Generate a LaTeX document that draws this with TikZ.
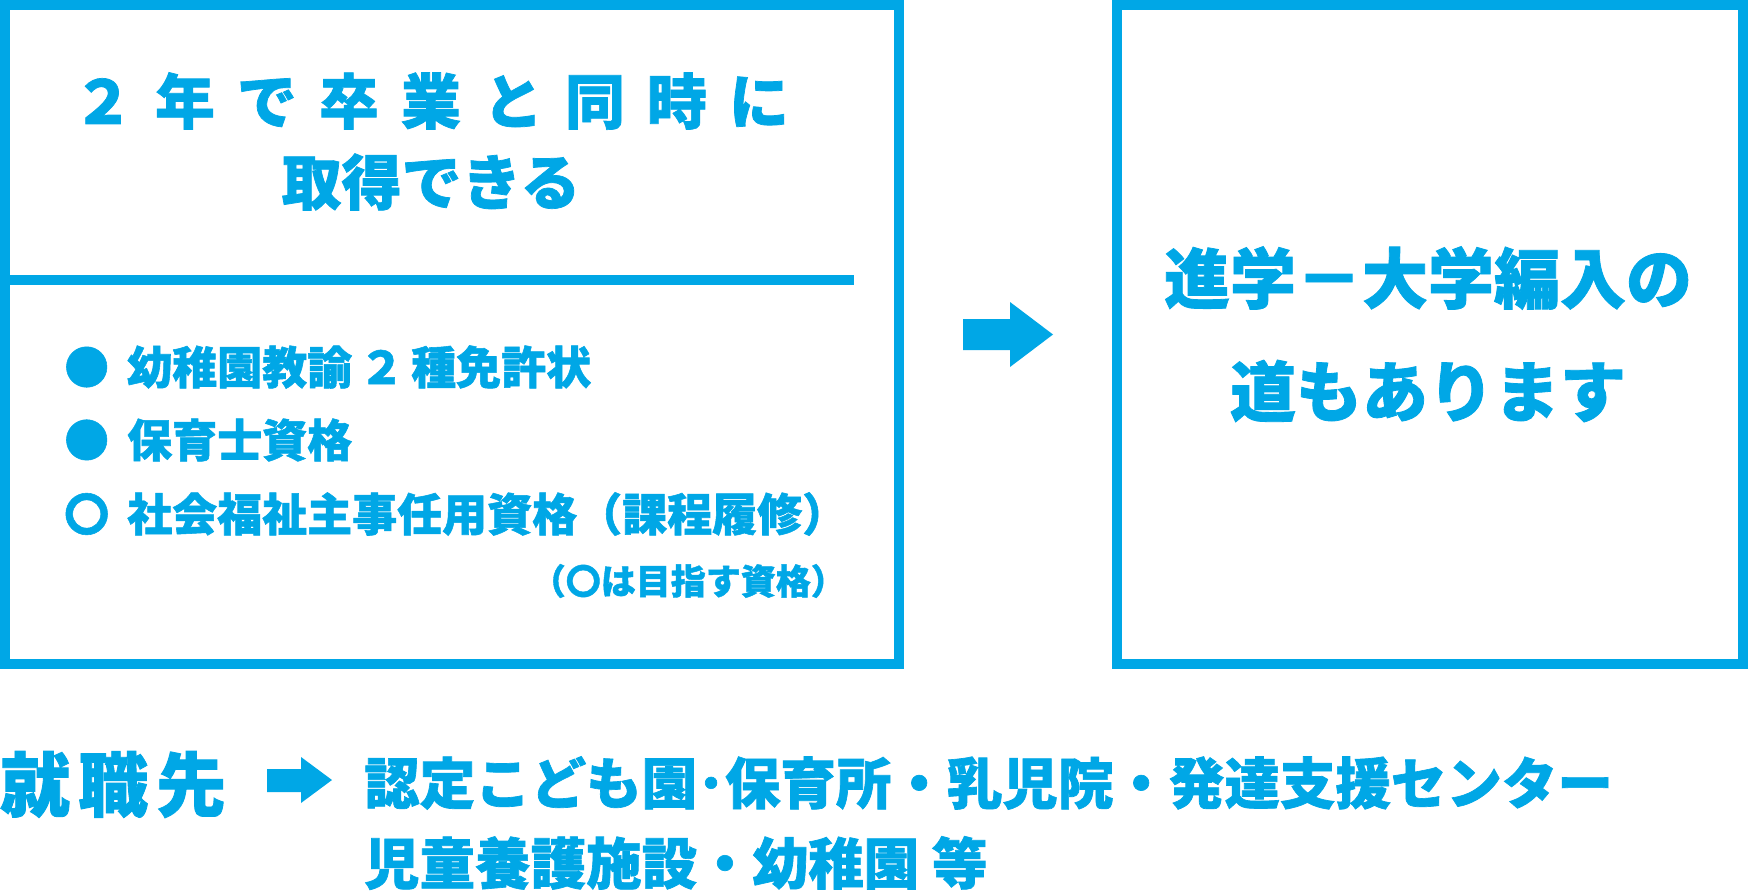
\documentclass[tikz,border=0pt]{standalone}
\usepackage{fontspec}
\newfontfamily\jp{Noto Sans CJK JP}[BoldFeatures={FakeBold=1.2}]
\definecolor{cy}{RGB}{0,167,230}
\tikzset{
  frame/.style={draw=cy, line width=10pt},
  txt/.style={text=cy, inner sep=0pt},
  blockarrow/.style={fill=cy},
}
\newcommand\jpf[1]{\jp\bfseries\fontsize{#1}{1.2\dimexpr#1\relax}\selectfont}
\begin{document}
\begin{tikzpicture}[x=1pt,y=-1pt]
\useasboundingbox[fill=white] (0,0) rectangle (1748,891);
% left box
\draw[frame] (5,5) rectangle (899,664);
\draw[frame] (0,280) -- (854,280);
% right box
\draw[frame] (1117,5) rectangle (1743,664);
% title
\node[txt, font=\jpf{60pt}] (t1) at (431,101) {\spaceskip=22pt\relax ２ 年 で 卒 業 と 同 時 に};
\node[txt, font=\jpf{60pt}] (t2) at (431,182) {取得できる};
% items
\node[txt, anchor=west, font=\jpf{45pt}] (i1) at (64,367) {●\hspace{18pt}幼稚園教諭\hspace{7pt}２\hspace{7pt}種免許状};
\node[txt, anchor=west, font=\jpf{45pt}] (i2) at (64,440) {●\hspace{18pt}保育士資格};
\node[txt, anchor=west, font=\jpf{45pt}] (i3) at (64,514) {〇\hspace{18pt}社会福祉主事任用資格（課程履修）};
\node[txt, anchor=east, font=\jpf{35pt}] (note) at (846,581) {（〇は目指す資格）};
% arrow between boxes
\fill[blockarrow] (963,319) -- (1010,319) -- (1010,302) -- (1053,334.5) -- (1010,367) -- (1010,350) -- (963,350) -- cycle;
% right text
\node[txt, font=\jpf{66pt}] (r1) at (1428,278) {進学－大学編入の};
\node[txt, font=\jpf{66pt}] (r2) at (1428,391) {道もあります};
% bottom
\node[txt, anchor=west, font=\jpf{70pt}] (job) at (0,784.5) {就\kern8pt 職\kern8pt 先};
\fill[blockarrow] (267,769) -- (301,769) -- (301,757) -- (332,780) -- (301,803) -- (301,792) -- (267,792) -- cycle;
\node[txt, anchor=west, font=\jpf{55.5pt}] (b1) at (364,783) {認定こども園･保育所・乳児院・発達支援センター};
\node[txt, anchor=west, font=\jpf{55.5pt}] (b2) at (364,863) {児童養護施設・幼稚園 等};
\end{tikzpicture}
\end{document}
